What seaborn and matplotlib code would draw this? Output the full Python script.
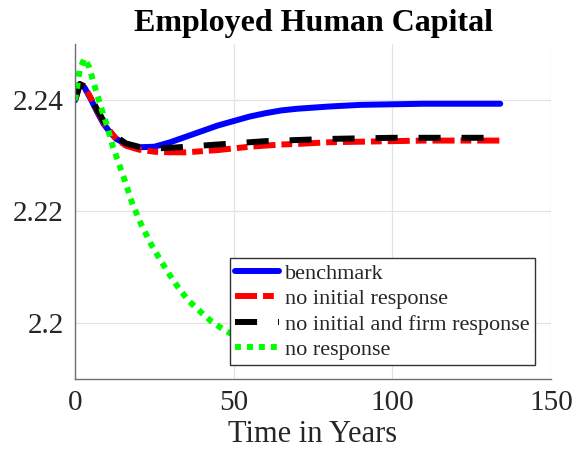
import pandas as pd
import matplotlib.pyplot as plt
import seaborn as sns

# values
x_main = [0, 1.5, 3, 5, 7, 9, 11, 13, 16, 20, 25, 30, 35, 40, 45, 50, 55, 60, 65, 70, 80, 90, 100, 110, 120, 134]
benchmark = [2.2399, 2.2428, 2.2422, 2.2401, 2.2378, 2.2357, 2.2342, 2.2330, 2.2321, 2.2315, 2.2316,
             2.2324, 2.2334, 2.2344, 2.2354, 2.2362, 2.2370, 2.2376, 2.2381, 2.2384, 2.2388, 2.2391,
             2.2392, 2.2393, 2.2393, 2.2393]
no_initial = [2.2399, 2.2428, 2.2424, 2.2403, 2.2380, 2.2360, 2.2344, 2.2330, 2.2318, 2.2311, 2.2307,
              2.2306, 2.2306, 2.2308, 2.2310, 2.2313, 2.2316, 2.2318, 2.2320, 2.2321, 2.2324, 2.2325,
              2.2326, 2.2327, 2.2327, 2.2327]
no_initial_firm = [2.2399, 2.2428, 2.2424, 2.2404, 2.2382, 2.2362, 2.2347, 2.2334, 2.2322, 2.2316, 2.2313,
                   2.2314, 2.2316, 2.2318, 2.2320, 2.2322, 2.2324, 2.2326, 2.2327, 2.2328, 2.2330, 2.2331,
                   2.2332, 2.2332, 2.2332, 2.2332]

x_green = [0, 1.5, 3, 4.5, 6, 8, 10, 12, 14, 16, 18, 21, 24, 27, 30, 33, 36, 40, 43, 47, 52, 58, 64]
no_response = [2.2399, 2.2455, 2.2474, 2.2458, 2.2428, 2.2390, 2.2355, 2.2315, 2.2283, 2.2250, 2.2215,
               2.2175, 2.2141, 2.2112, 2.2085, 2.2060, 2.2039, 2.2018, 2.2003, 2.1988, 2.1972, 2.1955, 2.1942]

x_ticks = [0, 50, 100, 150]
y_ticks = [2.2, 2.22, 2.24]
y_tick_labels = ["2.2", "2.22", "2.24"]

sns.set_style("white")
plt.rcParams['font.family'] = ['Liberation Serif', 'DejaVu Serif']

fig = plt.figure(figsize=(5.87, 4.63), dpi=100)
ax = fig.add_axes([0.1278, 0.1814, 0.8109, 0.7236])

lw = 4.3
sns.lineplot(x=x_main, y=benchmark, ax=ax, color='#0000ff', lw=lw, label='benchmark')
sns.lineplot(x=x_main, y=no_initial, ax=ax, color='#ff0000', lw=lw,
             linestyle=(0, (3.7, 1.0, 1.8, 1.0)), label='no initial response')
sns.lineplot(x=x_main, y=no_initial_firm, ax=ax, color='black', lw=lw,
             linestyle=(0, (3.7, 3.5)), label='no initial and firm response')
sns.lineplot(x=x_green, y=no_response, ax=ax, color='#00ff00', lw=lw,
             linestyle=(0, (1.0, 1.0)), label='no response')
for line in ax.get_lines():
    line.set_dash_capstyle('butt')

ax.set_xlim(0, 150)
ax.set_ylim(2.19, 2.25)
ax.set_xticks(x_ticks)
ax.set_yticks(y_ticks)
ax.set_yticklabels(y_tick_labels)
ax.grid(True, color='#e3e3e3', lw=0.9)
ax.set_axisbelow(True)
for side in ['top', 'right']:
    ax.spines[side].set_visible(False)
for side in ['left', 'bottom']:
    ax.spines[side].set_color('#707070')
    ax.spines[side].set_linewidth(1.0)
ax.tick_params(direction='in', length=4, width=0.9, color='#404040',
               labelsize=21, labelcolor='#262626', pad=8)

ax.set_title('Employed Human Capital', fontsize=23, fontweight='bold', color='black', pad=9)
ax.set_xlabel('Time in Years', fontsize=22, color='#262626', labelpad=3)
ax.set_ylabel('')

leg = ax.legend(loc='lower right', bbox_to_anchor=(0.966, 0.042), borderaxespad=0,
                fontsize=16, handlelength=1.95, handletextpad=0.3, labelspacing=0.22,
                borderpad=0.22, fancybox=False, framealpha=1)
leg.get_frame().set_edgecolor('#333333')
leg.get_frame().set_linewidth(1.0)
for t in leg.get_texts():
    t.set_color('#262626')

fig.savefig('out.png', dpi=100)
